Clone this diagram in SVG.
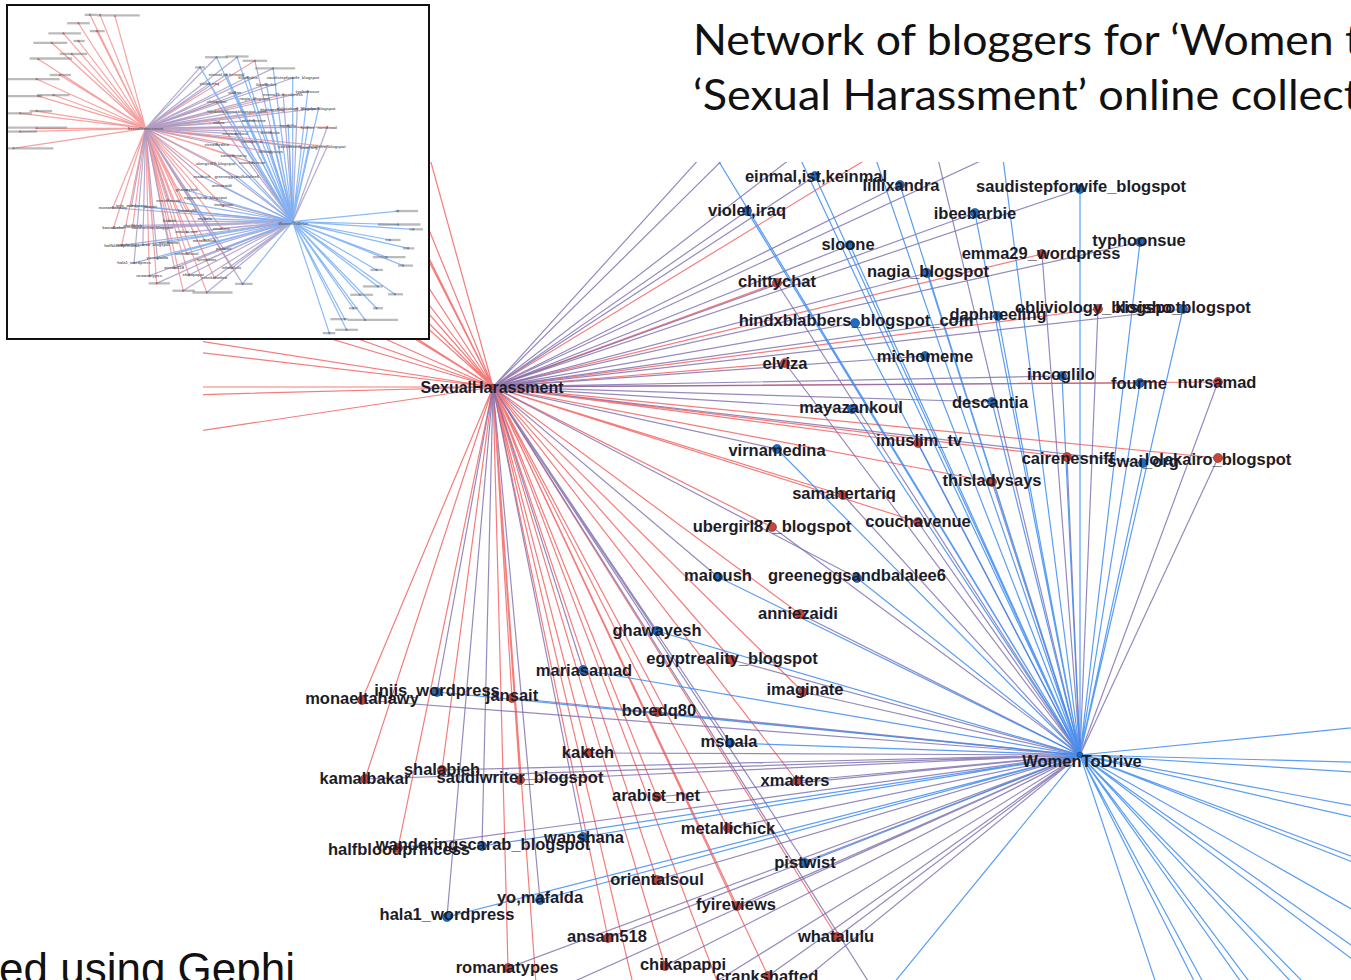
<svg xmlns="http://www.w3.org/2000/svg" xmlns:xlink="http://www.w3.org/1999/xlink" width="1351" height="980" viewBox="0 0 1351 980">
<style>
.cn path{fill:none;stroke-width:1.2;vector-effect:non-scaling-stroke}
.r path{stroke:#f0504f;stroke-opacity:.75}
.p path{stroke:#7a6cae;stroke-opacity:.8}
.b path{stroke:#3d8cf2;stroke-opacity:.85}
.cr{fill:#c9443a;stroke:#7a2a22;stroke-width:.6}
.cb{fill:#1f6cc4;stroke:#173f70;stroke-width:.6}
.nd text{font-family:"Liberation Sans",Arial,sans-serif;font-weight:bold;font-size:16.5px;fill:#1c1c28;text-anchor:middle}
.sm{stroke:#2a2a2a;stroke-width:9;stroke-opacity:.45}
.title{font-family:Lato,"Open Sans",sans-serif;font-size:42px;fill:#111}
</style>
<defs>
<clipPath id="mainclip"><rect x="203" y="162" width="1148" height="818"/></clipPath>
<clipPath id="insetclip"><rect x="8" y="6" width="420" height="332"/></clipPath>
</defs>
<rect width="1351" height="980" fill="#fff"/>
<g clip-path="url(#mainclip)">
<g id="network">
<g id="connectors" class="cn">
<g class="r">
<path d="M493 387L1042 254M493 387L777 283M493 387L1098 309M493 387L785 363M493 387L1218 382M493 387L918 443M493 387L1067 457M493 387L1218 458M493 387L992 482M493 387L843 495M493 387L918 522M493 387L772 527M493 387L800 614M493 387L732 660M493 387L803 692M493 387L362 700M493 387L512 698M493 387L657 712M493 387L588 753M493 387L365 779M493 387L442 770M493 387L520 780M493 387L797 781M493 387L657 797M493 387L728 828M493 387L398 848M493 387L657 880M493 387L737 906M493 387L608 938M493 387L837 937M493 387L508 968M493 387L665 966M493 387L768 976M493 387L929 121M493 387L537 998M493 387L643 1027M493 387L737 1034"/>
<path d="M493 387L271 -60M493 387L311 -60M493 387L371 -55M493 387L225 -27M493 387L298 4M493 387L165 13M493 387L225 43M493 387L118 50M493 387L198 94M493 387L65 115M493 387L151 177M493 387L58 193M493 387L125 256M493 387L65 260M493 387L58 319M493 387L-8 328M493 387L58 387M493 387L-8 400M493 387L-35 466"/>
</g>
<g class="p">
<path d="M493 387L815 176M493 387L900 185M493 387L1080 189M493 387L747 211M493 387L975 213M493 387L850 245M493 387L1140 242M493 387L927 273M493 387L855 323M493 387L998 316M493 387L1183 309M493 387L925 356M493 387L1062 376M493 387L1140 383M493 387L992 402M493 387L852 409M493 387L777 449M493 387L1143 463M493 387L718 577M493 387L857 578M493 387L657 631M493 387L583 670M493 387L437 692M493 387L730 743M493 387L482 846M493 387L583 837M493 387L805 863M493 387L540 900M493 387L447 917M493 387L776 107M493 387L858 107M493 387L710 147M493 387L1002 151M493 387L880 1000"/>
<path d="M1080 755L1042 254M1080 755L777 283M1080 755L1098 309M1080 755L785 363M1080 755L1218 382M1080 755L918 443M1080 755L1067 457M1080 755L1218 458M1080 755L992 482M1080 755L843 495M1080 755L918 522M1080 755L772 527M1080 755L800 614M1080 755L732 660M1080 755L803 692M1080 755L362 700M1080 755L512 698M1080 755L657 712M1080 755L588 753M1080 755L365 779M1080 755L442 770M1080 755L520 780M1080 755L797 781M1080 755L657 797M1080 755L728 828M1080 755L398 848M1080 755L657 880M1080 755L737 906M1080 755L608 938M1080 755L837 937M1080 755L508 968M1080 755L665 966M1080 755L768 976M1080 755L929 121M1080 755L537 998M1080 755L643 1027M1080 755L737 1034"/>
</g>
<g class="b">
<path d="M1080 755L815 176M1080 755L900 185M1080 755L1080 189M1080 755L747 211M1080 755L975 213M1080 755L850 245M1080 755L1140 242M1080 755L927 273M1080 755L855 323M1080 755L998 316M1080 755L1183 309M1080 755L925 356M1080 755L1062 376M1080 755L1140 383M1080 755L992 402M1080 755L852 409M1080 755L777 449M1080 755L1143 463M1080 755L718 577M1080 755L857 578M1080 755L657 631M1080 755L583 670M1080 755L437 692M1080 755L730 743M1080 755L482 846M1080 755L583 837M1080 755L805 863M1080 755L540 900M1080 755L447 917M1080 755L776 107M1080 755L858 107M1080 755L710 147M1080 755L1002 151M1080 755L880 1000"/>
<path d="M1080 755L1501 713M1080 755L1501 766M1080 755L1561 785M1080 755L1468 827M1080 755L1541 860M1080 755L1455 895M1080 755L1521 928M1080 755L1415 945M1080 755L1488 1041M1080 755L1420 1010M1080 755L1348 1043M1080 755L1415 1096M1080 755L1322 1096M1080 755L1288 1139M1080 755L1369 1142M1080 755L1295 1181M1080 755L1226 1194"/>
</g>
</g>
<g id="nodes" class="nd">
<g id="n-sh"><circle class="cr" cx="493" cy="387" r="3"/><text x="492" y="393" style="font-size:16px">SexualHarassment</text></g>
<g id="n-wtd"><circle class="cb" cx="1080" cy="755" r="3"/><text x="1082" y="767">WomenToDrive</text></g>
<g id="n-einmal"><circle class="cb" cx="815" cy="176" r="4.5"/><text x="816" y="182">einmal,ist,keinmal</text></g>
<g id="n-lillixandra"><circle class="cb" cx="900" cy="185" r="4.5"/><text x="901" y="191">lillixandra</text></g>
<g id="n-saudistep"><circle class="cb" cx="1080" cy="189" r="4.5"/><text x="1081" y="192">saudistepforwife_blogspot</text></g>
<g id="n-violet"><circle class="cb" cx="747" cy="211" r="4.5"/><text x="747" y="216">violet,iraq</text></g>
<g id="n-ibeebarbie"><circle class="cb" cx="975" cy="213" r="4.5"/><text x="975" y="219">ibeebarbie</text></g>
<g id="n-sloone"><circle class="cb" cx="850" cy="245" r="4.5"/><text x="848" y="250">sloone</text></g>
<g id="n-typhoonsue"><circle class="cb" cx="1140" cy="242" r="4.5"/><text x="1139" y="246">typhoonsue</text></g>
<g id="n-emma29"><circle class="cr" cx="1042" cy="254" r="4.5"/><text x="1041" y="259">emma29_wordpress</text></g>
<g id="n-nagia"><circle class="cb" cx="927" cy="273" r="4.5"/><text x="928" y="277">nagia_blogspot</text></g>
<g id="n-chittychat"><circle class="cr" cx="777" cy="283" r="4.5"/><text x="777" y="287">chittychat</text></g>
<g id="n-hindx"><circle class="cb" cx="855" cy="323" r="4.5"/><text x="856" y="326">hindxblabbers_blogspot_com</text></g>
<g id="n-daphneeling"><circle class="cb" cx="998" cy="316" r="4.5"/><text x="998" y="320">daphneeling</text></g>
<g id="n-obliviology"><circle class="cr" cx="1098" cy="309" r="4.5"/><text x="1098" y="313">obliviology_blogspot</text></g>
<g id="n-kisisho"><circle class="cb" cx="1183" cy="309" r="4.5"/><text x="1183" y="313">kisisho_blogspot</text></g>
<g id="n-elviza"><circle class="cr" cx="785" cy="363" r="4.5"/><text x="785" y="369">elviza</text></g>
<g id="n-michomeme"><circle class="cb" cx="925" cy="356" r="4.5"/><text x="925" y="362">michomeme</text></g>
<g id="n-incoglilo"><circle class="cb" cx="1062" cy="376" r="4.5"/><text x="1061" y="380">incoglilo</text></g>
<g id="n-fourme"><circle class="cb" cx="1140" cy="383" r="4.5"/><text x="1139" y="389">fourme</text></g>
<g id="n-nursamad"><circle class="cr" cx="1218" cy="382" r="4.5"/><text x="1217" y="388">nursamad</text></g>
<g id="n-descantia"><circle class="cb" cx="992" cy="402" r="4.5"/><text x="990" y="408">descantia</text></g>
<g id="n-mayazankoul"><circle class="cb" cx="852" cy="409" r="4.5"/><text x="851" y="413">mayazankoul</text></g>
<g id="n-imuslim"><circle class="cr" cx="918" cy="443" r="4.5"/><text x="919" y="446">imuslim_tv</text></g>
<g id="n-virnamedina"><circle class="cb" cx="777" cy="449" r="4.5"/><text x="777" y="456">virnamedina</text></g>
<g id="n-cairenesniff"><circle class="cr" cx="1067" cy="457" r="4.5"/><text x="1068" y="464">cairenesniff</text></g>
<g id="n-swai"><circle class="cb" cx="1143" cy="463" r="4.5"/><text x="1143" y="467">swai_org</text></g>
<g id="n-kairo"><circle class="cr" cx="1218" cy="458" r="4.5"/><text x="1218" y="465">lolakairo_blogspot</text></g>
<g id="n-thisladysays"><circle class="cr" cx="992" cy="482" r="4.5"/><text x="992" y="486">thisladysays</text></g>
<g id="n-samahertariq"><circle class="cr" cx="843" cy="495" r="4.5"/><text x="844" y="499">samahertariq</text></g>
<g id="n-couchavenue"><circle class="cr" cx="918" cy="522" r="4.5"/><text x="918" y="527">couchavenue</text></g>
<g id="n-ubergirl87"><circle class="cr" cx="772" cy="527" r="4.5"/><text x="772" y="532">ubergirl87_blogspot</text></g>
<g id="n-maioush"><circle class="cb" cx="718" cy="577" r="4.5"/><text x="718" y="581">maioush</text></g>
<g id="n-greeneggs"><circle class="cb" cx="857" cy="578" r="4.5"/><text x="857" y="581">greeneggsandbalalee6</text></g>
<g id="n-anniezaidi"><circle class="cr" cx="800" cy="614" r="4.5"/><text x="798" y="619">anniezaidi</text></g>
<g id="n-ghawayesh"><circle class="cb" cx="657" cy="631" r="4.5"/><text x="657" y="636">ghawayesh</text></g>
<g id="n-egyptreality"><circle class="cr" cx="732" cy="660" r="4.5"/><text x="732" y="664">egyptreality_blogspot</text></g>
<g id="n-mariasamad"><circle class="cb" cx="583" cy="670" r="4.5"/><text x="584" y="676">mariasamad</text></g>
<g id="n-imaginate"><circle class="cr" cx="803" cy="692" r="4.5"/><text x="805" y="695">imaginate</text></g>
<g id="n-monaeltahawy"><circle class="cr" cx="362" cy="700" r="4.5"/><text x="362" y="704">monaeltahawy</text></g>
<g id="n-injis"><circle class="cb" cx="437" cy="692" r="4.5"/><text x="437" y="696">injis_wordpress</text></g>
<g id="n-jansait"><circle class="cr" cx="512" cy="698" r="4.5"/><text x="512" y="701">jansait</text></g>
<g id="n-boredq80"><circle class="cr" cx="657" cy="712" r="4.5"/><text x="659" y="716">boredq80</text></g>
<g id="n-msbala"><circle class="cb" cx="730" cy="743" r="4.5"/><text x="729" y="747">msbala</text></g>
<g id="n-kakteh"><circle class="cr" cx="588" cy="753" r="4.5"/><text x="588" y="758">kakteh</text></g>
<g id="n-kamalbakar"><circle class="cr" cx="365" cy="779" r="4.5"/><text x="365" y="784">kamalbakar</text></g>
<g id="n-shalabieh"><circle class="cr" cx="442" cy="770" r="4.5"/><text x="442" y="775">shalabieh</text></g>
<g id="n-saudiwriter"><circle class="cr" cx="520" cy="780" r="4.5"/><text x="520" y="783">saudiwriter_blogspot</text></g>
<g id="n-xmatters"><circle class="cr" cx="797" cy="781" r="4.5"/><text x="795" y="786">xmatters</text></g>
<g id="n-arabist"><circle class="cr" cx="657" cy="797" r="4.5"/><text x="656" y="801">arabist_net</text></g>
<g id="n-metallichick"><circle class="cr" cx="728" cy="828" r="4.5"/><text x="728" y="834">metallichick</text></g>
<g id="n-halfblood"><circle class="cr" cx="398" cy="848" r="4.5"/><text x="399" y="855">halfbloodprincess</text></g>
<g id="n-wanderingscarab"><circle class="cb" cx="482" cy="846" r="4.5"/><text x="483" y="850">wanderingscarab_blogspot</text></g>
<g id="n-wanshana"><circle class="cb" cx="583" cy="837" r="4.5"/><text x="584" y="843">wanshana</text></g>
<g id="n-pistwist"><circle class="cb" cx="805" cy="863" r="4.5"/><text x="805" y="868">pistwist</text></g>
<g id="n-orientalsoul"><circle class="cr" cx="657" cy="880" r="4.5"/><text x="657" y="885">orientalsoul</text></g>
<g id="n-yomafalda"><circle class="cb" cx="540" cy="900" r="4.5"/><text x="540" y="903">yo,mafalda</text></g>
<g id="n-fyireviews"><circle class="cr" cx="737" cy="906" r="4.5"/><text x="736" y="910">fyireviews</text></g>
<g id="n-hala1"><circle class="cb" cx="447" cy="917" r="4.5"/><text x="447" y="920">hala1_wordpress</text></g>
<g id="n-ansam518"><circle class="cr" cx="608" cy="938" r="4.5"/><text x="607" y="942">ansam518</text></g>
<g id="n-whatalulu"><circle class="cr" cx="837" cy="937" r="4.5"/><text x="836" y="942">whatalulu</text></g>
<g id="n-romanatypes"><circle class="cr" cx="508" cy="968" r="4.5"/><text x="507" y="973">romanatypes</text></g>
<g id="n-chikapappi"><circle class="cr" cx="665" cy="966" r="4.5"/><text x="683" y="970">chikapappi</text></g>
<g id="n-crankshafted"><circle class="cr" cx="768" cy="976" r="4.5"/><text x="767" y="982">crankshafted</text></g>
<g id="n-t1"><circle class="cb" cx="776" cy="107" r="4"/><line class="sm" x1="730" y1="107" x2="822" y2="107"/></g>
<g id="n-t2"><circle class="cb" cx="858" cy="107" r="4"/><line class="sm" x1="812" y1="104" x2="904" y2="104"/></g>
<g id="n-t3"><circle class="cr" cx="929" cy="121" r="4"/><line class="sm" x1="880" y1="121" x2="978" y2="121"/></g>
<g id="n-t4"><circle class="cb" cx="710" cy="147" r="4"/><line class="sm" x1="690" y1="147" x2="730" y2="147"/></g>
<g id="n-t5"><circle class="cb" cx="1002" cy="151" r="4"/><line class="sm" x1="930" y1="151" x2="1090" y2="151"/></g>
<g id="n-b1"><circle class="cr" cx="537" cy="998" r="4"/><line class="sm" x1="505" y1="998" x2="590" y2="998"/></g>
<g id="n-b2"><circle class="cr" cx="643" cy="1027" r="4"/><line class="sm" x1="600" y1="1027" x2="690" y2="1027"/></g>
<g id="n-b3"><circle class="cr" cx="737" cy="1034" r="4"/><line class="sm" x1="680" y1="1034" x2="840" y2="1034"/></g>
<g id="n-b4"><circle class="cb" cx="880" cy="1000" r="4"/><line class="sm" x1="850" y1="1000" x2="920" y2="1000"/></g>
<g id="n-l1"><circle class="cr" cx="271" cy="-60" r="4"/><line class="sm" x1="250" y1="-60" x2="300" y2="-60"/></g>
<g id="n-l2"><circle class="cr" cx="311" cy="-60" r="4"/><line class="sm" x1="300" y1="-58" x2="470" y2="-58"/></g>
<g id="n-l3"><circle class="cr" cx="371" cy="-55" r="4"/></g>
<g id="n-l4"><circle class="cr" cx="225" cy="-27" r="4"/><line class="sm" x1="180" y1="-27" x2="270" y2="-27"/></g>
<g id="n-l5"><circle class="cr" cx="298" cy="4" r="4"/><line class="sm" x1="270" y1="4" x2="330" y2="4"/></g>
<g id="n-l6"><circle class="cr" cx="165" cy="13" r="4"/><line class="sm" x1="105" y1="13" x2="235" y2="13"/></g>
<g id="n-l7"><circle class="cr" cx="225" cy="43" r="4"/><line class="sm" x1="205" y1="43" x2="250" y2="43"/></g>
<g id="n-l8"><circle class="cr" cx="118" cy="50" r="4"/><line class="sm" x1="45" y1="50" x2="180" y2="50"/></g>
<g id="n-l9"><circle class="cr" cx="198" cy="94" r="4"/><line class="sm" x1="150" y1="94" x2="260" y2="94"/></g>
<g id="n-l10"><circle class="cr" cx="65" cy="115" r="4"/><line class="sm" x1="30" y1="112" x2="200" y2="112"/></g>
<g id="n-l11"><circle class="cr" cx="151" cy="177" r="4"/><line class="sm" x1="110" y1="177" x2="195" y2="177"/></g>
<g id="n-l12"><circle class="cr" cx="58" cy="193" r="4"/><line class="sm" x1="-60" y1="193" x2="150" y2="193"/></g>
<g id="n-l13"><circle class="cr" cx="125" cy="256" r="4"/><line class="sm" x1="60" y1="256" x2="190" y2="256"/></g>
<g id="n-l14"><circle class="cr" cx="65" cy="260" r="4"/><line class="sm" x1="-60" y1="260" x2="80" y2="260"/></g>
<g id="n-l15"><circle class="cr" cx="58" cy="319" r="4"/><line class="sm" x1="30" y1="319" x2="120" y2="319"/></g>
<g id="n-l16"><circle class="cr" cx="-8" cy="328" r="4"/><line class="sm" x1="-60" y1="328" x2="40" y2="328"/></g>
<g id="n-l17"><circle class="cr" cx="58" cy="387" r="4"/><line class="sm" x1="-60" y1="384" x2="180" y2="384"/></g>
<g id="n-l18"><circle class="cr" cx="-8" cy="400" r="4"/><line class="sm" x1="-60" y1="400" x2="60" y2="400"/></g>
<g id="n-l19"><circle class="cr" cx="-35" cy="466" r="4"/><line class="sm" x1="-60" y1="466" x2="125" y2="466"/></g>
<g id="n-r1"><circle class="cb" cx="1501" cy="713" r="4"/><line class="sm" x1="1490" y1="713" x2="1580" y2="713"/></g>
<g id="n-r2"><circle class="cb" cx="1501" cy="766" r="4"/><line class="sm" x1="1420" y1="766" x2="1590" y2="766"/></g>
<g id="n-r3"><circle class="cb" cx="1561" cy="785" r="4"/><line class="sm" x1="1545" y1="785" x2="1600" y2="785"/></g>
<g id="n-r4"><circle class="cb" cx="1468" cy="827" r="4"/><line class="sm" x1="1450" y1="827" x2="1510" y2="827"/></g>
<g id="n-r5"><circle class="cb" cx="1541" cy="860" r="4"/><line class="sm" x1="1520" y1="860" x2="1565" y2="860"/></g>
<g id="n-r6"><circle class="cb" cx="1455" cy="895" r="4"/><line class="sm" x1="1400" y1="895" x2="1530" y2="895"/></g>
<g id="n-r7"><circle class="cb" cx="1521" cy="928" r="4"/><line class="sm" x1="1500" y1="928" x2="1560" y2="928"/></g>
<g id="n-r8"><circle class="cb" cx="1415" cy="945" r="4"/><line class="sm" x1="1390" y1="945" x2="1440" y2="945"/></g>
<g id="n-r9"><circle class="cb" cx="1488" cy="1041" r="4"/><line class="sm" x1="1460" y1="1041" x2="1520" y2="1041"/></g>
<g id="n-r10"><circle class="cb" cx="1420" cy="1010" r="4"/><line class="sm" x1="1360" y1="1010" x2="1440" y2="1010"/></g>
<g id="n-r11"><circle class="cb" cx="1348" cy="1043" r="4"/><line class="sm" x1="1310" y1="1043" x2="1400" y2="1043"/></g>
<g id="n-r12"><circle class="cb" cx="1415" cy="1096" r="4"/><line class="sm" x1="1400" y1="1096" x2="1440" y2="1096"/></g>
<g id="n-r13"><circle class="cb" cx="1322" cy="1096" r="4"/><line class="sm" x1="1305" y1="1096" x2="1340" y2="1096"/></g>
<g id="n-r14"><circle class="cb" cx="1288" cy="1139" r="4"/><line class="sm" x1="1230" y1="1139" x2="1300" y2="1139"/></g>
<g id="n-r15"><circle class="cb" cx="1369" cy="1142" r="4"/><line class="sm" x1="1300" y1="1142" x2="1500" y2="1142"/></g>
<g id="n-r16"><circle class="cb" cx="1295" cy="1181" r="4"/><line class="sm" x1="1250" y1="1181" x2="1340" y2="1181"/></g>
<g id="n-r17"><circle class="cb" cx="1226" cy="1194" r="4"/><line class="sm" x1="1200" y1="1194" x2="1250" y2="1194"/></g>
</g>
</g>
</g>
<g id="inset">
<rect x="7" y="5" width="422" height="334" fill="#fff"/>
<g clip-path="url(#insetclip)" opacity="0.7">
<use xlink:href="#network" href="#network" transform="translate(22.06 30.08) scale(0.2506 0.2538)"/>
</g>
<rect x="7" y="5" width="422" height="334" fill="none" stroke="#111" stroke-width="2"/>
</g>
<g id="titles">
<text class="title" x="693" y="55" textLength="668" lengthAdjust="spacingAndGlyphs">Network of bloggers for ‘Women t</text>
<text class="title" x="693" y="110" textLength="667" lengthAdjust="spacingAndGlyphs">‘Sexual Harassment’ online collect</text>
<text x="-1" y="984" style="font-family:'Liberation Sans',Arial,sans-serif;font-size:44px;fill:#111">ed using Gephi</text>
</g>
</svg>
